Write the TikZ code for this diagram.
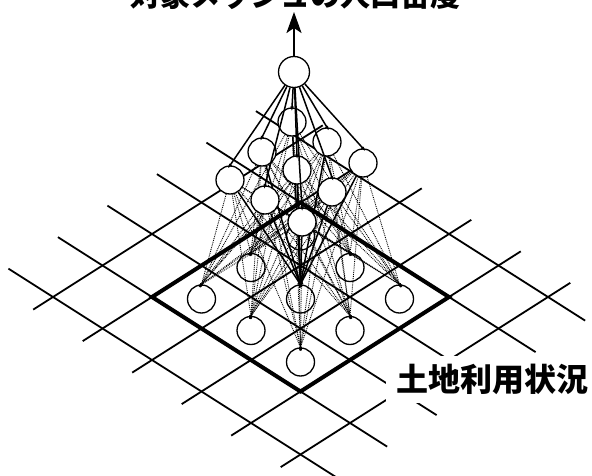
\documentclass[tikz,border=0pt]{standalone}
\usepackage{fontspec}
\newfontfamily\jpfont{Noto Sans CJK JP}
\usetikzlibrary{arrows.meta,backgrounds}

\begin{document}
\begin{tikzpicture}[x=1pt, y=-1pt, >=Latex,
meshline/.style={line width=1.8pt},
meshedge/.style={line width=4pt, line join=miter},
neuron/.style={draw, circle, fill=white, line width=1.3pt, minimum size=28pt, inner sep=0pt},
link/.style={line width=1.5pt, shorten >=-4pt, -{Latex[length=6pt,width=4.5pt]}},
dotlink/.style={line width=0.9pt, densely dotted, shorten >=-4pt, -{Latex[length=4pt,width=3pt]}},
jptext/.style={font=\jpfont\bfseries\fontsize{32}{36}\selectfont}]
\useasboundingbox (0,0) rectangle (592,476);
\clip (0,0) rectangle (592,476);

% hidden layer, back to front
\node[neuron] (h11) at (292,122) {};
\node[neuron] (h12) at (327,142) {};
\node[neuron] (h21) at (262,152) {};
\node[neuron] (h13) at (363,163) {};
\node[neuron] (h22) at (297,170) {};
\node[neuron] (h31) at (230,180) {};
\node[neuron] (h23) at (332,192) {};
\node[neuron] (h32) at (265,200) {};
\node[neuron] (h33) at (302,222) {};

% output
\node[neuron, minimum size=31pt] (out) at (294,72) {};
\coordinate (top) at (294,12);
\draw[line width=2.2pt, -{Stealth[length=21pt,width=15pt,inset=5pt]}] (out) -- (top);
\foreach \h in {h11,h12,h21,h13,h22,h31,h23,h32,h33}
  \draw[link, -{Latex[length=5pt,width=3.5pt]}] (out) -- (\h.north);

% ground mesh and inputs
\begin{scope}[on background layer]
\begin{scope}[shift={(152,297)}, x={(49.5pt,-31.5pt)}, y={(49.5pt,31.5pt)}]
\foreach \k in {-1,...,4} {
  \draw[meshline] (-1.9,\k) -- (4.75,\k);
  \draw[meshline] (\k,-1.4) -- (\k,4.45);
}
\draw[meshedge] (0,0) -- (3,0) -- (3,3) -- (0,3) -- cycle;
\node[neuron, yshift=-2pt] (l11) at (0.5,0.5) {};
\node[neuron, yshift=-2pt] (l21) at (1.5,0.5) {};
\node[neuron, yshift=-2pt] (l31) at (2.5,0.5) {};
\node[neuron, yshift=-2pt] (l12) at (0.5,1.5) {};
\node[neuron, yshift=-2pt] (l22) at (1.5,1.5) {};
\node[neuron, yshift=-2pt] (l32) at (2.5,1.5) {};
\node[neuron, yshift=-2pt] (l13) at (0.5,2.5) {};
\node[neuron, yshift=-2pt] (l23) at (1.5,2.5) {};
\node[neuron, yshift=-2pt] (l33) at (2.5,2.5) {};
\end{scope}
\foreach \h in {h11,h12,h21,h13,h22,h31,h23,h32,h33} {
  \foreach \l in {l11,l21,l31,l12,l32,l13,l23,l33}
    \draw[dotlink] (\h) -- (\l.north);
  \draw[link] (\h) -- (l22.north);
}
\end{scope}

\node[jptext, fill=white, anchor=base west, inner xsep=10pt, inner ysep=9pt, text height=26pt, text depth=3pt] (land) at (386,391) {土地利用状況};
\node[jptext, font=\jpfont\bfseries\fontsize{30}{34}\selectfont, anchor=base] (ttl) at (295,7) {対象メッシュの人口密度};
\end{tikzpicture}
\end{document}
